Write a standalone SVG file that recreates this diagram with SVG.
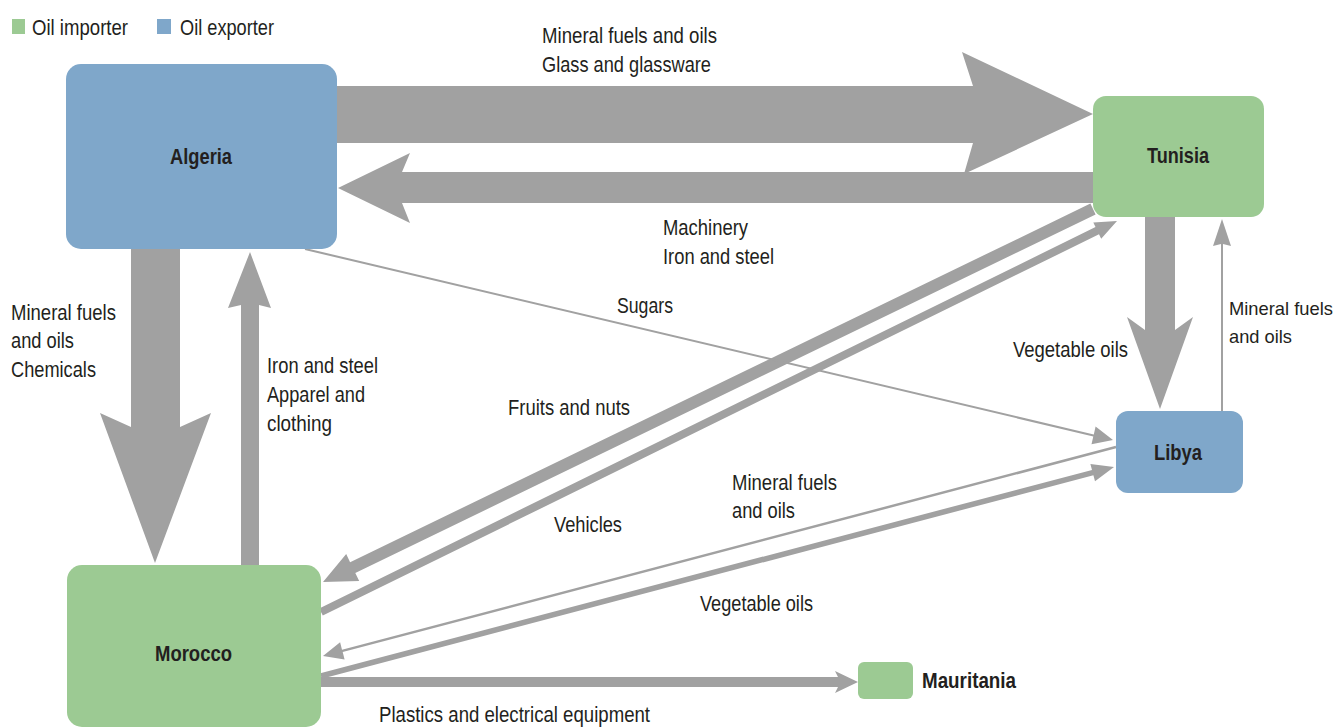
<svg xmlns="http://www.w3.org/2000/svg" width="1341" height="727" viewBox="0 0 1341 727">
<style>
.arr{fill:#a1a1a1;stroke:none}
.imp{fill:#9cca93}
.exp{fill:#7fa7ca}
text{font-family:"Liberation Sans Narrow","Liberation Sans",Arial,sans-serif;font-size:22px;fill:#231f20}
.nm{font-weight:bold}
.sm{font-size:19px}
</style>
<rect width="1341" height="727" fill="#ffffff"/>
<g id="legend">
<rect x="12" y="19" width="13" height="15" class="imp"/>
<text x="32" y="35" textLength="96" lengthAdjust="spacingAndGlyphs">Oil importer</text>
<rect x="157" y="19" width="14" height="15" class="exp"/>
<text x="180" y="35" textLength="94" lengthAdjust="spacingAndGlyphs">Oil exporter</text>
</g>
<g id="connectors">
<polygon class="arr" points="337,86 973,86 962,52 1093,114 964,174 973,143 337,143"/>
<polygon class="arr" points="1094,172 402,172 410,153 338,188 410,223 402,203 1094,203"/>
<polygon class="arr" points="131,248 131,427 100,413 155,563 211,413 180,427 180,248"/>
<polygon class="arr" points="241,566 241,305 228,308 250,252 271,308 259,305 259,566"/>
<polygon class="arr" points="1145,216 1145,330 1127,317 1160,409 1193,317 1175,330 1175,216"/>
<polygon class="arr" points="1221,412 1221,244 1213,246 1222,219 1231,246 1223,244 1223,412"/>
<polygon class="arr" points="320,677 838,677 835,671 858,682 835,693 838,687 320,687"/>
<polygon class="arr" points="1090.4,203.6 350.1,562.2 346.2,554.1 323,582 359.2,581.1 355.3,573.0 1095.6,214.4"/>
<polygon class="arr" points="319.2,608.4 1095.5,227.1 1093.3,222.6 1117,221 1101.2,238.8 1099.0,234.3 322.8,615.6"/>
<polygon class="arr" points="1115.7,445.8 342.0,649.7 340.1,642.2 323,656 344.6,659.6 342.7,652.1 1116.3,448.2"/>
<polygon class="arr" points="320.3,673.3 1092.0,469.9 1090.4,463.9 1114,467 1095.0,481.3 1093.4,475.3 321.7,678.7"/>
<polygon class="arr" points="305.2,248.0 1093.8,434.4 1095.6,426.6 1113,440 1091.5,444.2 1093.3,436.4 304.8,250.0"/>
</g>
<g id="labels">
<text x="542" y="43" textLength="175" lengthAdjust="spacingAndGlyphs">Mineral fuels and oils</text>
<text x="542" y="72" textLength="169" lengthAdjust="spacingAndGlyphs">Glass and glassware</text>
<text x="663" y="235" textLength="85" lengthAdjust="spacingAndGlyphs">Machinery</text>
<text x="663" y="264" textLength="111" lengthAdjust="spacingAndGlyphs">Iron and steel</text>
<text x="617" y="313" textLength="56" lengthAdjust="spacingAndGlyphs">Sugars</text>
<text x="11" y="320" textLength="105" lengthAdjust="spacingAndGlyphs">Mineral fuels</text>
<text x="11" y="348" textLength="63" lengthAdjust="spacingAndGlyphs">and oils</text>
<text x="11" y="377" textLength="85" lengthAdjust="spacingAndGlyphs">Chemicals</text>
<text x="267" y="373" textLength="111" lengthAdjust="spacingAndGlyphs">Iron and steel</text>
<text x="267" y="402" textLength="98" lengthAdjust="spacingAndGlyphs">Apparel and</text>
<text x="267" y="431" textLength="65" lengthAdjust="spacingAndGlyphs">clothing</text>
<text x="508" y="415" textLength="122" lengthAdjust="spacingAndGlyphs">Fruits and nuts</text>
<text x="554" y="532" textLength="68" lengthAdjust="spacingAndGlyphs">Vehicles</text>
<text x="732" y="490" textLength="105" lengthAdjust="spacingAndGlyphs">Mineral fuels</text>
<text x="732" y="518" textLength="63" lengthAdjust="spacingAndGlyphs">and oils</text>
<text x="700" y="611" textLength="113" lengthAdjust="spacingAndGlyphs">Vegetable oils</text>
<text x="379" y="722" textLength="271" lengthAdjust="spacingAndGlyphs">Plastics and electrical equipment</text>
<text x="1013" y="357" textLength="115" lengthAdjust="spacingAndGlyphs">Vegetable oils</text>
<text class="sm" x="1229" y="315" textLength="104" lengthAdjust="spacingAndGlyphs">Mineral fuels</text>
<text class="sm" x="1229" y="343" textLength="63" lengthAdjust="spacingAndGlyphs">and oils</text>
</g>
<g id="algeria">
<rect x="66" y="64" width="271" height="185" rx="15" class="exp"/>
<text class="nm" x="170" y="164" textLength="62" lengthAdjust="spacingAndGlyphs">Algeria</text>
</g>
<g id="tunisia">
<rect x="1093" y="96" width="171" height="121" rx="13" class="imp"/>
<text class="nm" x="1147" y="163" textLength="62" lengthAdjust="spacingAndGlyphs">Tunisia</text>
</g>
<g id="libya">
<rect x="1116" y="411" width="127" height="82" rx="12" class="exp"/>
<text class="nm" x="1154" y="460" textLength="48" lengthAdjust="spacingAndGlyphs">Libya</text>
</g>
<g id="morocco">
<rect x="67" y="565" width="254" height="162" rx="15" class="imp"/>
<text class="nm" x="155" y="661" textLength="77" lengthAdjust="spacingAndGlyphs">Morocco</text>
</g>
<g id="mauritania">
<rect x="858" y="662" width="55" height="37" rx="6" class="imp"/>
<text class="nm" x="922" y="688" textLength="94" lengthAdjust="spacingAndGlyphs">Mauritania</text>
</g>
</svg>
